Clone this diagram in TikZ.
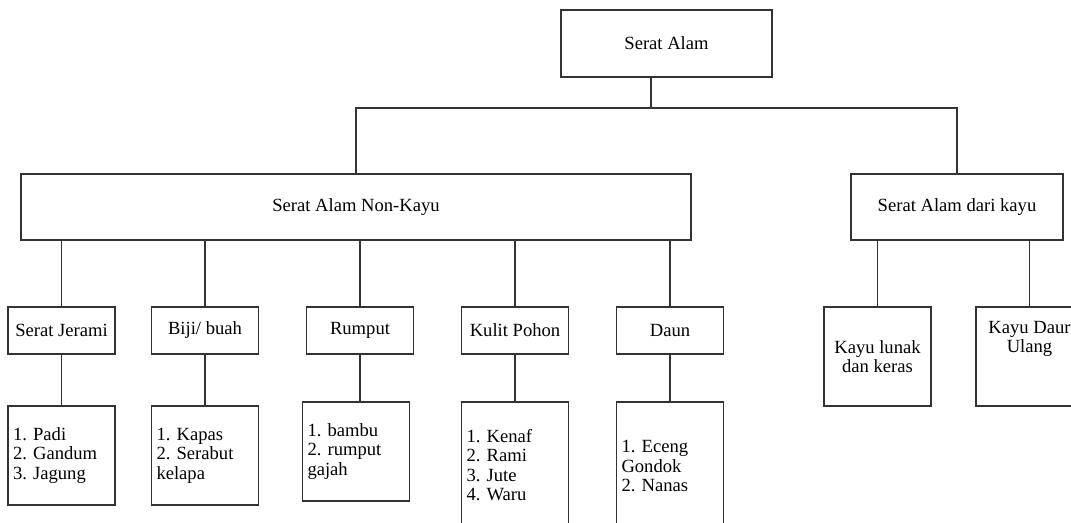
\documentclass[tikz,border=0pt]{standalone}
\usepackage{fontspec}
\setmainfont{Liberation Serif}
\usepackage{tikz}
\usetikzlibrary{positioning}
\frenchspacing

\begin{document}
\begin{tikzpicture}[x=0.5pt,y=-0.5pt,
  box/.style={draw=black!80,line width=0.6pt,inner sep=0pt,minimum width=53.5pt,minimum height=23.5pt,font=\fontsize{9.3pt}{9.8pt}\selectfont,align=center},
  listbox/.style={box,inner xsep=2.5pt,text width=48.5pt,align=left,minimum height=49.5pt},
  link/.style={draw=black!80,line width=0.7pt}]
\useasboundingbox (0,0) rectangle (1071,523);
\node[box,minimum width=105.5pt,minimum height=33.5pt] (alam) at (666.5,43.5) {Serat Alam};
\node[box,minimum width=335pt,minimum height=33pt] (nonkayu) at (356,207) {Serat Alam Non-Kayu};
\node[box,minimum width=106pt,minimum height=33pt] (kayu) at (957,207) {Serat Alam dari kayu};
\node[box] (jerami) at (61.5,330.5) {Serat Jerami};
\node[box] (biji) at (205,330.5) {Biji/ buah};
\node[box] (rumput) at (360,330.5) {Rumput};
\node[box] (kulit) at (515,330.5) {Kulit Pohon};
\node[box] (daun) at (670,330.5) {Daun};
\node[box,minimum height=49.5pt] (lunak) at (877.5,356.5) {Kayu lunak\\dan keras};
\node[box,minimum height=49.5pt] (daur) at (1029.5,356.5) {};
\node[font=\fontsize{9.3pt}{9.8pt}\selectfont,align=center,inner sep=0pt] (daurtext) at (1029.5,339) {Kayu Daur\\Ulang};
\node[listbox] (jeramilist) at (61.5,455.5) {1. Padi\\2. Gandum\\3. Jagung};
\node[listbox] (bijilist) at (205,455.5) {1. Kapas\\2. Serabut\\kelapa};
\node[listbox] (rumputlist) at (356,451.5) {1. bambu\\2. rumput\\gajah};
\node[listbox,minimum height=63pt] (kulitlist) at (515,465) {1. Kenaf\\2. Rami\\3. Jute\\4. Waru};
\node[listbox,minimum height=64pt] (daunlist) at (670,466) {1. Eceng\\Gondok\\2. Nanas};
\coordinate (stem) at (651,108);
\draw[link] (alam.south -| stem) -- (stem);
\draw[link] (nonkayu.north) |- (stem) -| (kayu.north);
\foreach \c in {jerami,biji,rumput,kulit,daun} {
  \draw[link] (nonkayu.south -| \c) -- (\c.north);
  \draw[link] (\c.south) -- (\c.south |- \c list.north);
}
\draw[link] (kayu.south -| lunak) -- (lunak.north);
\draw[link] (kayu.south -| daur) -- (daur.north);
\end{tikzpicture}
\end{document}
